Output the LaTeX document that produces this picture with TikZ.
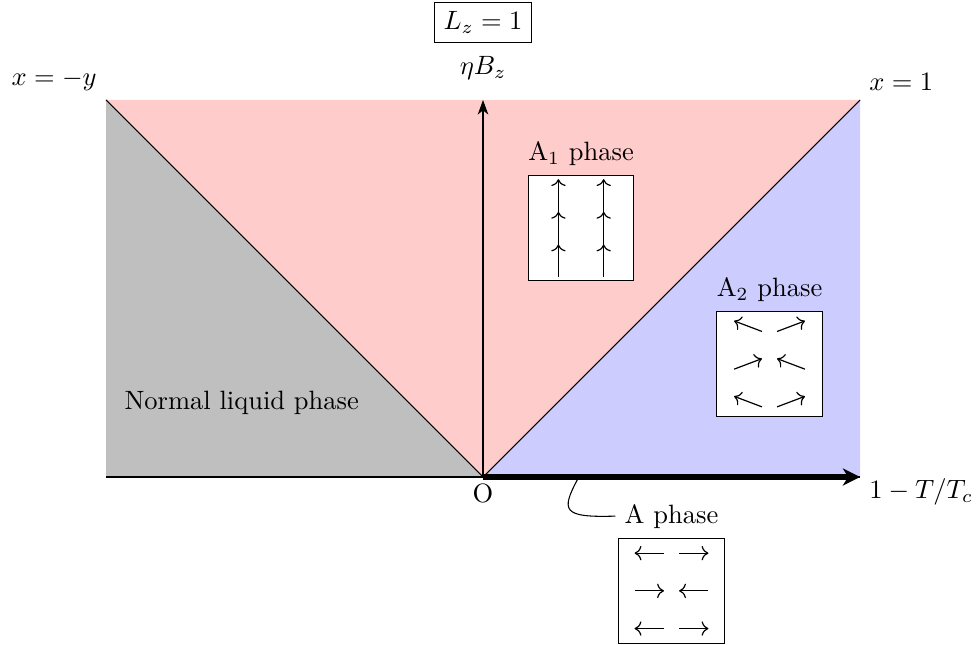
\documentclass[tikz,border=0pt]{standalone}
\usetikzlibrary{positioning,arrows.meta}
\begin{document}
\begin{tikzpicture}[
  phasebox/.style={draw, fill=white, minimum width=1.4cm, minimum height=1.4cm, inner sep=0pt},
  spin/.style={->, line width=0.45pt},
  thinaxis/.style={-{Stealth[length=5.5pt,width=4pt,inset=1.6pt]}},
  thickaxis/.style={line width=2.5pt, -{Stealth[length=6.5pt,width=6.5pt,inset=2pt]}},
]
\useasboundingbox (-6.406,-2.215) rectangle (6.538,6.326);
\coordinate (O) at (0,0);
\coordinate (TL) at (-5,5);
\coordinate (TR) at (5,5);
\coordinate (BL) at (-5,0);
\coordinate (BR) at (5,0);
\coordinate (TC) at (0,5);
% regions
\fill[gray!50] (BL) -- (O) -- (TL) -- cycle;
\fill[red!20] (TL) -- (TR) -- (O) -- cycle;
\fill[blue!20] (O) -- (TR) -- (BR) -- cycle;
% lines
\draw (TL) -- (O) -- (TR);
\draw (BL) -- (BR);
\draw[thinaxis] (O) -- (TC);
\draw[thickaxis] (O) -- (BR);
% labels
\node[above left] (lxy) at (TL) {$x=-y$};
\node[above right] (lx1) at (TR) {$x=1$};
\node[above=4pt] (leta) at (TC) {$\eta B_z$};
\node[below=-1pt] (lO) at (O) {O};
\node[anchor=west] (lT) at (5,-0.2) {$1-T/T_c$};
\node[draw] (lLz) at (0,6.03) {$L_z=1$};
\node (lnorm) at (-3.2,0.98) {Normal liquid phase};
% A1 phase
\node[phasebox] (bA1) at (1.30,3.30) {};
\node[above=0pt of bA1] (lA1) {A$_1$ phase};
\begin{scope}[shift={(bA1.center)}]
  \foreach \x in {-0.3,0.3}
    \foreach \y in {-0.65,-0.2167,0.2167}
      \draw[spin] (\x,\y) -- ++(0,0.4333);
\end{scope}
% A2 phase
\node[phasebox] (bA2) at (3.80,1.50) {};
\node[above=0pt of bA2] (lA2) {A$_2$ phase};
\begin{scope}[shift={(bA2.center)}]
  \draw[spin] (-0.1,0.43) -- (-0.47,0.57);
  \draw[spin] (0.1,0.43) -- (0.47,0.57);
  \draw[spin] (-0.47,-0.07) -- (-0.1,0.07);
  \draw[spin] (0.47,-0.07) -- (0.1,0.07);
  \draw[spin] (-0.1,-0.57) -- (-0.47,-0.43);
  \draw[spin] (0.1,-0.57) -- (0.47,-0.43);
\end{scope}
% A phase
\node[phasebox] (bA) at (2.50,-1.51) {};
\node[above=0pt of bA] (lA) {A phase};
\begin{scope}[shift={(bA.center)}]
  \draw[spin] (-0.1,0.5) -- (-0.49,0.5);
  \draw[spin] (0.1,0.5) -- (0.49,0.5);
  \draw[spin] (-0.49,0) -- (-0.1,0);
  \draw[spin] (0.49,0) -- (0.1,0);
  \draw[spin] (-0.1,-0.5) -- (-0.49,-0.5);
  \draw[spin] (0.1,-0.5) -- (0.49,-0.5);
\end{scope}
\coordinate (Apt) at (1.26,-0.02);
\draw (Apt) .. controls (1.03,-0.45) and (1.05,-0.54) .. (lA.west);
\end{tikzpicture}
\end{document}
